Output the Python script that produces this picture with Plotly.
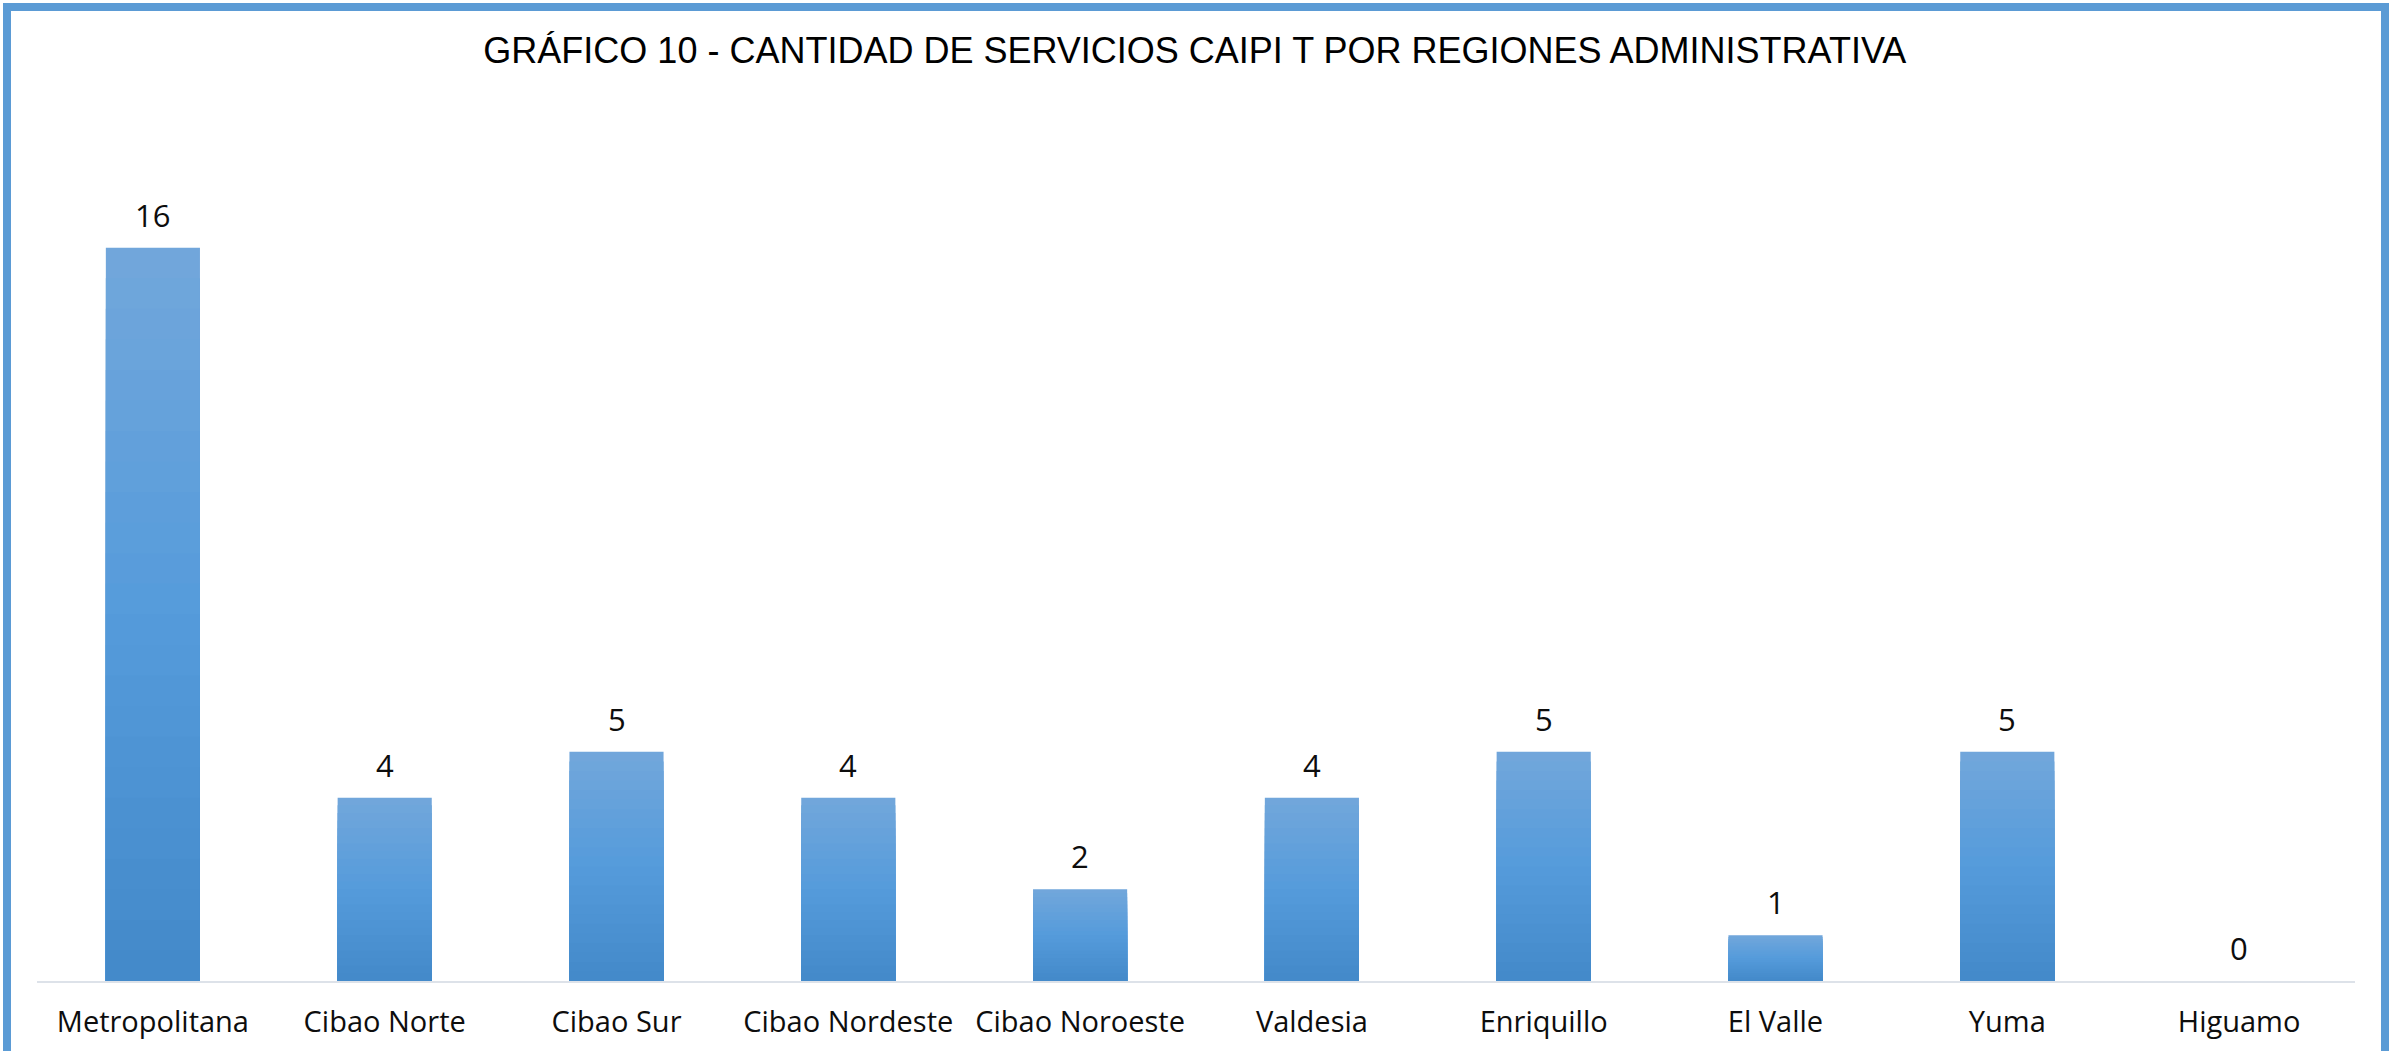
import plotly.graph_objects as go

# ---- data ----
regions = ["Metropolitana", "Cibao Norte", "Cibao Sur", "Cibao Nordeste", "Cibao Noroeste",
           "Valdesia", "Enriquillo", "El Valle", "Yuma", "Higuamo"]
services = [16, 4, 5, 4, 2, 4, 5, 1, 5, 0]
title_text = "GRÁFICO 10 - CANTIDAD DE SERVICIOS CAIPI T POR REGIONES ADMINISTRATIVA"

# ---- geometry ----
W, H = 2399, 1051
ML, MR, MT, MB = 37, 44, 156, 70
PW, PH = W - ML - MR, H - MT - MB


def px_x(p):
    return (p - ML) / PW


def px_y(q):
    return (H - MB - q) / PH


# gradient colours (bottom -> middle -> top)
stops = [(0.0, (0x43, 0x89, 0xC9)), (0.5, (0x55, 0x9B, 0xDB)), (1.0, (0x72, 0xA7, 0xDB))]


def grad(t):
    for (t0, c0), (t1, c1) in zip(stops[:-1], stops[1:]):
        if t0 <= t <= t1:
            f = (t - t0) / (t1 - t0)
            c = [round(a + (b - a) * f) for a, b in zip(c0, c1)]
            return "rgb(%d,%d,%d)" % tuple(c)
    return "rgb(%d,%d,%d)" % stops[-1][1]


fig = go.Figure()
N = 24
for k in range(N):
    frac = 1 - k / N
    t = 1 - (k + 0.5) / N
    fig.add_trace(go.Bar(
        x=regions,
        y=[v * frac for v in services],
        marker=dict(color=grad(t), line=dict(width=0)),
        hoverinfo="skip" if k else None,
        showlegend=False,
    ))

# data labels
for r, v in zip(regions, services):
    fig.add_annotation(
        x=r, y=v, xref="x", yref="y", text=str(v), showarrow=False,
        yanchor="bottom", yshift=10,
        font=dict(family="Open Sans", size=31, color="#0D0D0D"),
    )

# outer frame
fig.add_shape(type="rect", xref="paper", yref="paper",
              x0=px_x(7), x1=px_x(2385), y0=px_y(1056), y1=px_y(7),
              line=dict(color="#5B9BD5", width=8), fillcolor="rgba(0,0,0,0)", layer="above")

fig.update_layout(
    width=W, height=H,
    margin=dict(l=ML, r=MR, t=MT, b=MB, pad=0),
    paper_bgcolor="white", plot_bgcolor="white",
    barmode="overlay", bargap=0.594,
    title=dict(text=title_text, x=0.4995, xanchor="center", xref="paper",
               y=1 - 50 / H, yref="container", yanchor="middle",
               font=dict(family="Liberation Sans", size=36, color="#000000")),
    xaxis=dict(showline=True, linecolor="#DDE2E9", linewidth=2, ticks="",
               ticklabelstandoff=14,
               tickfont=dict(family="Open Sans", size=29, color="#0D0D0D"),
               showgrid=False, zeroline=False, fixedrange=True),
    yaxis=dict(range=[0, 18], visible=False, showgrid=False, zeroline=False, fixedrange=True),
)

fig.write_html("out.html", config={"displayModeBar": False},
               post_script="document.body.style.margin='0';document.body.style.overflow='hidden';")
